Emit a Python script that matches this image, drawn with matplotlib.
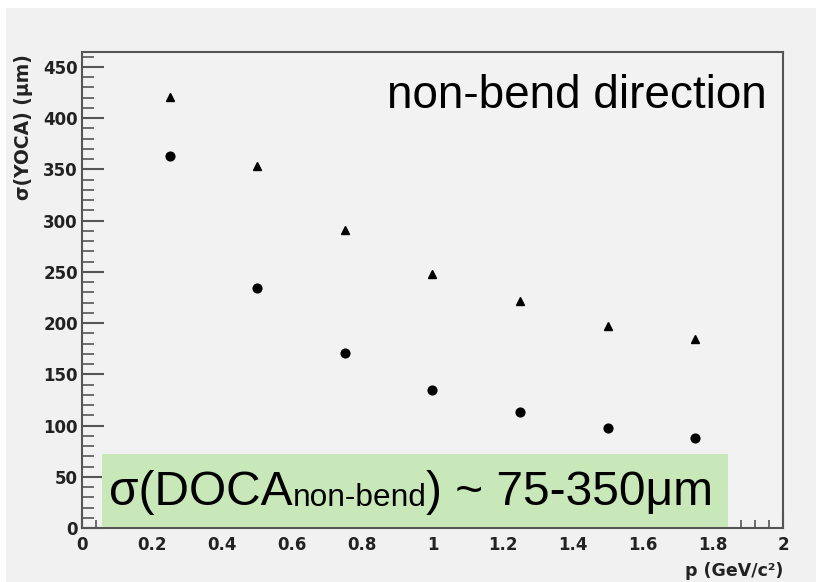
import matplotlib
matplotlib.use('Agg')
import matplotlib.pyplot as plt
from matplotlib.patches import Rectangle
from matplotlib.ticker import MultipleLocator, FixedLocator

# ---- data ----
p_values = [0.25, 0.5, 0.75, 1.0, 1.25, 1.5, 1.75]
sigma_triangles = [421, 353, 291, 248, 222, 197, 184]
sigma_circles = [363, 234, 171, 135, 113, 98, 88]
x_ticks = [0, 0.2, 0.4, 0.6, 0.8, 1.0, 1.2, 1.4, 1.6, 1.8, 2.0]
x_tick_labels = ['0', '0.2', '0.4', '0.6', '0.8', '1', '1.2', '1.4', '1.6', '1.8', '2']
y_ticks = [0, 50, 100, 150, 200, 250, 300, 350, 400, 450]
y_tick_labels = ['0', '50', '100', '150', '200', '250', '300', '350', '400', '450']

W, H = 816, 582
fig = plt.figure(figsize=(W / 100, H / 100), dpi=100, facecolor='white')
fig.add_artist(Rectangle((6 / W, 0), 1, 1 - 8 / H, transform=fig.transFigure,
                         facecolor='#f1f1f1', edgecolor='none', zorder=-10))

ax = fig.add_axes([82 / W, (H - 528) / H, 701 / W, 476.5 / H])
ax.set_facecolor('#f2f2f2')
ax.plot(p_values, sigma_triangles, linestyle='none', marker='^', ms=6, color='black')
ax.plot(p_values, sigma_circles, linestyle='none', marker='o', ms=6.3, color='black')
ax.set_xlim(0, 2)
ax.set_ylim(0, 465)

ax.xaxis.set_major_locator(FixedLocator(x_ticks))
ax.set_xticklabels(x_tick_labels)
ax.xaxis.set_minor_locator(MultipleLocator(0.04))
ax.yaxis.set_major_locator(FixedLocator(y_ticks))
ax.set_yticklabels(y_tick_labels)
ax.yaxis.set_minor_locator(MultipleLocator(10))

tc = '#555555'
ax.tick_params(axis='y', which='major', direction='in', length=15.5, width=1.5,
               color=tc, pad=3, labelsize=12, labelcolor='#222222')
ax.tick_params(axis='y', which='minor', direction='in', length=8.5, width=1.2, color=tc)
ax.tick_params(axis='x', which='major', direction='in', length=11, width=1.5,
               color=tc, pad=6, labelsize=12, labelcolor='#222222')
ax.tick_params(axis='x', which='minor', direction='in', length=5.5, width=1.2, color=tc)
for lab in ax.get_xticklabels() + ax.get_yticklabels():
    lab.set_fontweight('bold')
    lab.set_family('DejaVu Sans')
for s in ax.spines.values():
    s.set_color(tc)
    s.set_linewidth(1.5)

# axis labels (ROOT style)
fig.text(24 / W, 1 - 54 / H, 'σ(YOCA) (μm)', rotation=90, ha='center', va='top',
         fontsize=13.5, fontweight='bold', color='#222222', family='DejaVu Sans')
fig.text(783 / W, 1 - 571 / H, 'p (GeV/c²)', ha='right', va='center',
         fontsize=12.5, fontweight='bold', color='#222222', family='DejaVu Sans')

# top annotation
fig.text(767 / W, 1 - 108 / H, 'non-bend direction', ha='right', va='baseline',
         fontsize=33, family='Liberation Sans', color='black')

# green box annotation
fig.add_artist(Rectangle((101.7 / W, (H - 527) / H), (727.7 - 101.7) / W, 73 / H,
                         transform=fig.transFigure, facecolor='#c9e8b9',
                         edgecolor='none', zorder=5))
fig.canvas.draw()
r = fig.canvas.get_renderer()
t1 = fig.text(109 / W, 1 - 505 / H, 'σ(DOCA', ha='left', va='baseline',
              fontsize=34.5, family='Liberation Sans', color='black', zorder=6)
x1 = t1.get_window_extent(r).x1
t2 = fig.text(x1 / W, 1 - 506.5 / H, 'non-bend', ha='left', va='baseline',
              fontsize=22.8, family='Liberation Sans', color='black', zorder=6)
x2 = t2.get_window_extent(r).x1
fig.text(x2 / W, 1 - 505 / H, ') ~ 75-350μm', ha='left', va='baseline',
         fontsize=34.5, family='Liberation Sans', color='black', zorder=6)

fig.savefig('out.png', dpi=100, facecolor=fig.get_facecolor())
